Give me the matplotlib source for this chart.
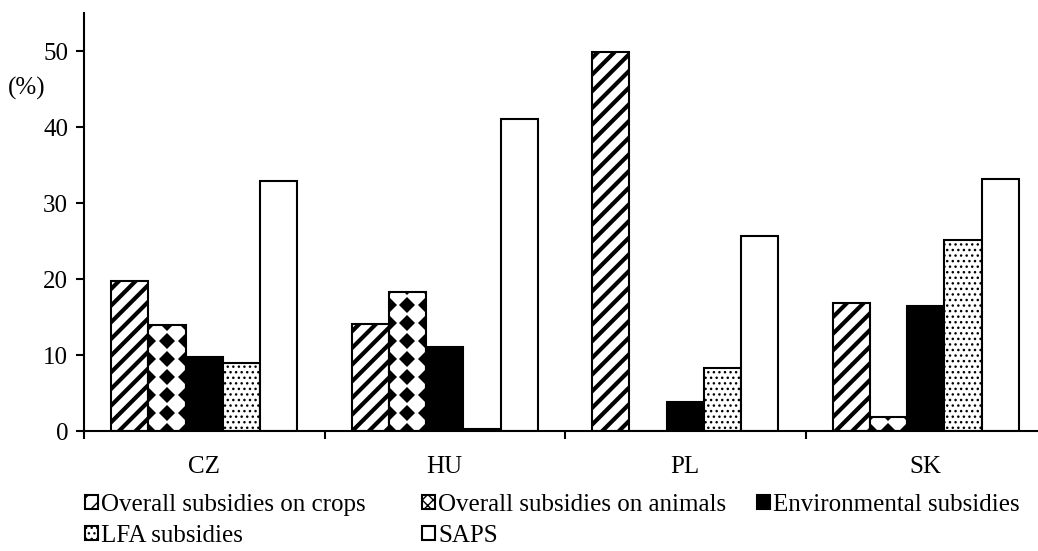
import numpy as np
import matplotlib
matplotlib.use("Agg")
import matplotlib.pyplot as plt
from matplotlib.patches import Patch

plt.rcParams.update({
    "font.family": ["Liberation Serif", "DejaVu Serif"],
    "font.size": 18,
    "axes.linewidth": 1.5,
    "hatch.color": "black",
})

countries = ["CZ", "HU", "PL", "SK"]
series = ["Overall subsidies on crops", "Overall subsidies on animals",
          "Environmental subsidies", "LFA subsidies", "SAPS"]
crops = [19.8, 14.1, 49.9, 16.8]
animals = [13.9, 18.3, 0.0, 1.8]
environmental = [9.7, 11.1, 3.8, 16.5]
lfa = [8.9, 0.2, 8.3, 25.1]
saps = [32.9, 41.1, 25.7, 33.1]
yticks = [0, 10, 20, 30, 40, 50]

values = [crops, animals, environmental, lfa, saps]
hatches = ["//", None, None, "...", None]
faces = ["white", "white", "black", "white", "white"]

W, H = 1038, 551
fig = plt.figure(figsize=(W / 100, H / 100), dpi=100)
ax = fig.add_axes([84 / W, (H - 431) / H, (1046 - 84) / W, (431 - 13) / H])

x = np.arange(len(countries))
bw = 0.155
groups = []
for i, (vals, hat, fc) in enumerate(zip(values, hatches, faces)):
    lw_hatch = 3.0 if hat == "//" else 1.0
    with plt.rc_context({"hatch.linewidth": lw_hatch}):
        bars = ax.bar(x + (i - 2) * bw, vals, width=bw, color=fc, edgecolor="black",
                      linewidth=1.5, hatch=hat, label=series[i], zorder=2)
    for b in bars:
        if hat and hasattr(b, "set_hatch_linewidth"):
            b.set_hatch_linewidth(lw_hatch)
    groups.append(bars)

# diamond texture on the animal subsidies bars
step_y = 18 / 7.58
for b in groups[1]:
    h = b.get_height()
    if h <= 0:
        continue
    x0, w = b.get_x(), b.get_width()
    xs = [x0, x0 + w / 2, x0 + w]
    ys = np.arange(0, h + step_y, step_y)
    gx, gy = np.meshgrid(xs, ys)
    pts, = ax.plot(gx.ravel(), gy.ravel(), "D", ms=8.6, color="black",
                   mew=0, zorder=3)
    pts.set_clip_path(b)

ax.set_xlim(-0.5, 3.5)
ax.set_ylim(0, 55)
ax.set_yticks(yticks)
ax.tick_params(axis="y", direction="out", length=5.5, width=1.5, pad=6)
ax.set_xticks(x)
ax.set_xticklabels(countries)
ax.set_xticks(np.arange(-0.5, 4.0, 1.0), minor=True)
ax.tick_params(axis="x", which="major", length=0, pad=18)
ax.tick_params(axis="x", which="minor", direction="out", length=5.5, width=1.5)
for s in ["top", "right"]:
    ax.spines[s].set_visible(False)

fig.text(8 / W, 1 - 88 / H, "(%)", ha="left", va="center", fontsize=18)

# legend built as three columns at fixed positions
with plt.rc_context({"hatch.linewidth": 1.5}):
    animal_proxy = Patch(facecolor="white", edgecolor="black", hatch="xxx", linewidth=1.5)
cols = [
    ([groups[0][0], groups[3][0]], [series[0], series[3]], 85),
    ([animal_proxy, groups[4][0]], [series[1], series[4]], 422),
    ([groups[2][0]], [series[2]], 757),
]
for handles, labels, px in cols:
    leg = fig.legend(handles, labels, loc="upper left",
                     bbox_to_anchor=(px / W, 1 - 494 / H), frameon=False,
                     borderpad=0, borderaxespad=0, handlelength=0.5,
                     handleheight=0.5, handletextpad=0.15, labelspacing=0.36,
                     fontsize=18)

fig.savefig("out.png", dpi=100)
